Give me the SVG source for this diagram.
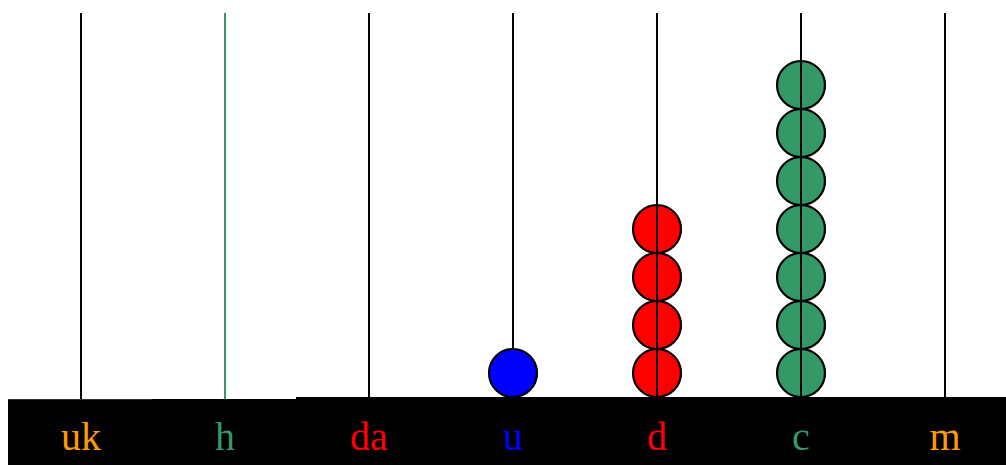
<svg xmlns="http://www.w3.org/2000/svg" width="1006" height="465" viewBox="0 0 1006 465">
<style>
.rod{stroke:#000;stroke-width:2}
.bead{stroke:#000;stroke-width:2.2}
.lbl{font-family:"Liberation Serif",serif;font-size:40px;text-anchor:middle}
</style>
<rect width="1006" height="465" fill="#fff"/>
<g id="base">
<rect x="8" y="399" width="288" height="66" fill="#000"/>
<rect x="296" y="397" width="710" height="68" fill="#000"/>
<line x1="8" y1="399.5" x2="152" y2="399.5" stroke="#333" stroke-width="1"/>
</g>
<g id="rods">
<line class="rod" x1="81" y1="13" x2="81" y2="399"/>
<line x1="225" y1="13" x2="225" y2="399" stroke="#339966" stroke-width="2"/>
<line class="rod" x1="369" y1="13" x2="369" y2="397"/>
<line class="rod" x1="513" y1="13" x2="513" y2="360"/>
</g>
<g id="u-beads">
<circle class="bead" cx="513" cy="373" r="24" fill="#0000ff"/>
</g>
<g id="d-beads">
<circle class="bead" cx="657" cy="373" r="24" fill="#ff0000"/>
<circle class="bead" cx="657" cy="325" r="24" fill="#ff0000"/>
<circle class="bead" cx="657" cy="277" r="24" fill="#ff0000"/>
<circle class="bead" cx="657" cy="229" r="24" fill="#ff0000"/>
<line class="rod" x1="657" y1="13" x2="657" y2="397"/>
</g>
<g id="c-beads">
<circle class="bead" cx="801" cy="373" r="24" fill="#339966"/>
<circle class="bead" cx="801" cy="325" r="24" fill="#339966"/>
<circle class="bead" cx="801" cy="277" r="24" fill="#339966"/>
<circle class="bead" cx="801" cy="229" r="24" fill="#339966"/>
<circle class="bead" cx="801" cy="181" r="24" fill="#339966"/>
<circle class="bead" cx="801" cy="133" r="24" fill="#339966"/>
<circle class="bead" cx="801" cy="85" r="24" fill="#339966"/>
<line class="rod" x1="801" y1="13" x2="801" y2="397"/>
</g>
<g id="m-rod">
<line class="rod" x1="945" y1="13" x2="945" y2="397"/>
</g>
<g id="labels">
<text class="lbl" x="81" y="450" fill="#ff9900">uk</text>
<text class="lbl" x="225" y="450" fill="#339966">h</text>
<text class="lbl" x="369" y="450" fill="#ff0000">da</text>
<text class="lbl" x="513" y="450" fill="#0000ff">u</text>
<text class="lbl" x="657" y="450" fill="#ff0000">d</text>
<text class="lbl" x="801" y="450" fill="#339966">c</text>
<text class="lbl" x="945" y="450" fill="#ff9900">m</text>
</g>
</svg>
